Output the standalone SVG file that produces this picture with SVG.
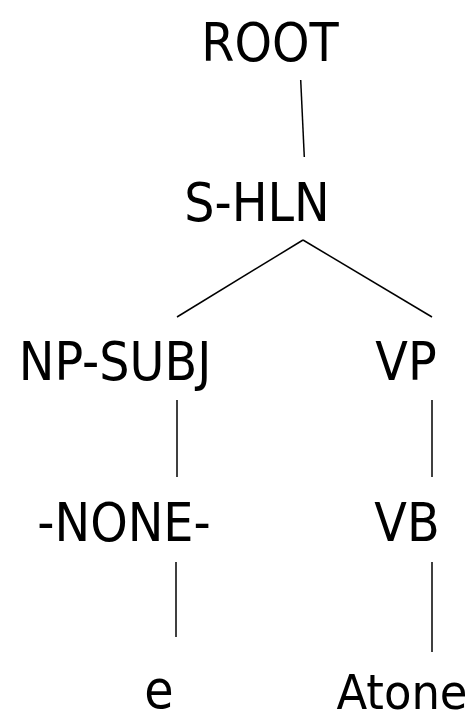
<svg xmlns="http://www.w3.org/2000/svg" width="475" height="721" viewBox="0 0 475 721">
<style>
text{font-family:"DejaVu Sans Condensed","DejaVu Sans",sans-serif;font-stretch:condensed;font-size:53px;fill:#000;text-anchor:middle}
.small{font-size:48px}
line{stroke:#000;stroke-width:1.5}
</style>
<rect width="475" height="721" fill="#fff"/>
<g id="connectors">
<line x1="300.7" y1="80" x2="304.3" y2="157"/>
<line x1="303" y1="240" x2="177" y2="317"/>
<line x1="303" y1="240" x2="432" y2="317"/>
<line x1="177" y1="400" x2="177" y2="477"/>
<line x1="432" y1="400" x2="432" y2="477"/>
<line x1="176" y1="562" x2="176" y2="637"/>
<line x1="432" y1="562" x2="432" y2="652"/>
</g>
<g id="root"><text x="270" y="61">ROOT</text></g>
<g id="s-hln"><text x="257" y="221">S-HLN</text></g>
<g id="np-subj"><text x="115" y="380">NP-SUBJ</text></g>
<g id="vp"><text x="406" y="380">VP</text></g>
<g id="none"><text x="124" y="541">-NONE-</text></g>
<g id="vb"><text x="407" y="541">VB</text></g>
<g id="e"><text x="159" y="708">e</text></g>
<g id="atone"><text class="small" x="402" y="709" textLength="131" lengthAdjust="spacingAndGlyphs">Atone</text></g>
</svg>
